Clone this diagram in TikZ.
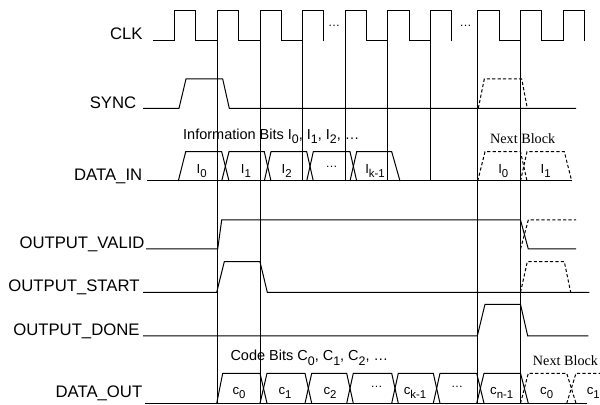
\documentclass[tikz,border=0pt]{standalone}
\usepackage{fontspec}
\setmainfont{Liberation Sans}
\newfontfamily\nbfont{Liberation Serif}
\newcommand{\sbx}[1]{\raisebox{-0.3em}{\fontsize{5.7}{6.5}\selectfont #1}}
\newcommand{\sbt}[1]{\raisebox{-0.28em}{\fontsize{6.2}{7}\selectfont #1}}
\begin{document}
\begin{tikzpicture}[x=0.5pt,y=-0.5pt, line width=0.5pt, line join=miter,
  dsh/.style={dash pattern=on 1.6pt off 1.1pt},
  lbl/.style={anchor=base east, inner sep=0pt, font=\fontsize{8.35}{10}\selectfont},
  cell/.style={anchor=base, inner sep=0pt, font=\fontsize{6.6}{7.5}\selectfont},
  ttl/.style={anchor=base west, inner sep=0pt, font=\fontsize{7.25}{8.5}\selectfont},
  nb/.style={anchor=base, inner sep=0pt, font=\nbfont\fontsize{7.1}{8.5}\selectfont},
  dts/.style={anchor=base, inner sep=0pt, font=\fontsize{6}{7}\selectfont}]
\useasboundingbox (0,0) rectangle (600,405);

% signal names
\node[lbl] (nclk) at (143,39.3) {CLK};
\node[lbl] (nsync) at (136.7,108.5) {SYNC};
\node[lbl] (ndin) at (142.7,180.5) {DATA\_IN};
\node[lbl] (nvalid) at (145,249) {OUTPUT\_VALID};
\node[lbl] (nstart) at (140,291.3) {OUTPUT\_START};
\node[lbl] (ndone) at (140,335.3) {OUTPUT\_DONE};
\node[lbl] (ndout) at (142.7,397.7) {DATA\_OUT};

% clock
\draw (153,40.7) -- (174.7,40.7) -- (174.7,10.7) -- (195.7,10.7) -- (195.7,40.7)
  -- (217.7,40.7) -- (217.7,10.7) -- (238.3,10.7) -- (238.3,40.7)
  -- (260,40.7) -- (260,10.7) -- (281.7,10.7) -- (281.7,40.7)
  -- (302.7,40.7) -- (302.7,10.7) -- (323.3,10.7) -- (323.3,40.7);
\draw (345.7,40.7) -- (345.7,10.7) -- (366.7,10.7) -- (366.7,40.7)
  -- (387.7,40.7) -- (387.7,10.7) -- (409.3,10.7) -- (409.3,40.7)
  -- (430.7,40.7) -- (430.7,10.7) -- (451.7,10.7) -- (451.7,40.7);
\draw (477.3,40.7) -- (477.3,10.7) -- (499,10.7) -- (499,40.7)
  -- (520.5,40.7) -- (520.5,10.7) -- (541.7,10.7) -- (541.7,40.7)
  -- (563.3,40.7) -- (563.3,10.7) -- (584,10.7) -- (584,40.7);
\node[dts] (cd1) at (334,27) {\ldots};
\node[dts] (cd2) at (465.5,27) {\ldots};

% vertical timing lines
\draw (217.7,40.7) -- (217.7,403.3);
\draw (260,40.7) -- (260,403.3);
\draw (302.7,40.7) -- (302.7,181);
\draw (345.7,40.7) -- (345.7,181);
\draw (387.7,40.7) -- (387.7,181);
\draw (430.7,40.7) -- (430.7,181);
\draw (477.3,40.7) -- (477.3,403.3);
\draw (520.5,40.7) -- (520.5,403.3);

% SYNC
\draw (143,108.3) -- (179,108.3) -- (186,79) -- (222.7,79) -- (229.3,108.3) -- (576,108.3);
\draw[dsh] (478.3,108.3) -- (484.3,79) -- (521.7,79) -- (527.3,108.3);

% DATA_IN
\draw (147,181) -- (571.7,181);
\draw (178.3,181) -- (185.7,151.7) -- (221.7,151.7) -- (229,181);
\draw (221.7,181) -- (229,151.7) -- (264.3,151.7) -- (271,181);
\draw (264.3,181) -- (271,151.7) -- (306.7,151.7) -- (313.3,181);
\draw (306.7,181) -- (313.3,151.7) -- (350,151.7) -- (356.7,181);
\draw (350,181) -- (356.7,151.7) -- (391.7,151.7) -- (400,181);
\draw[dsh] (477.7,181) -- (485,151.7) -- (520.5,151.7) -- (527,181);
\draw[dsh] (520.5,181) -- (527,151.7) -- (564.3,151.7) -- (571.7,181);
\node[cell] (i0) at (201.7,173.3) {I\sbx{0}};
\node[cell] (i1) at (246,173.3) {I\sbx{1}};
\node[cell] (i2) at (286.7,173.3) {I\sbx{2}};
\node[dts] (idots) at (331.7,167.3) {\ldots};
\node[cell] (ik) at (375,173.3) {I\sbx{k-1}};
\node[cell] (ni0) at (503.3,173.3) {I\sbx{0}};
\node[cell] (ni1) at (545.7,173.3) {I\sbx{1}};
\node[ttl] (ititle) at (182.7,139.3) {Information Bits I\sbt{0}, I\sbt{1}, I\sbt{2}, \ldots};
\node[nb] (nbin) at (522.7,144) {Next Block};

% OUTPUT_VALID
\draw (146,249) -- (217.7,249) -- (221.7,220) -- (520.5,220) -- (528.3,249) -- (576,249);
\draw[dsh] (520.5,249) -- (528.3,220) -- (576,220);

% OUTPUT_START
\draw (143,292.3) -- (216.7,292.3) -- (224.3,261.7) -- (260,261.7) -- (267.3,292.3) -- (589.3,292.3);
\draw[dsh] (520.5,292.3) -- (527.3,261.7) -- (564.3,261.7) -- (570.7,292.3);

% OUTPUT_DONE
\draw (143,336) -- (477.3,336) -- (485,304.3) -- (520.5,304.3) -- (527.7,336) -- (588.3,336);

% DATA_OUT
\draw (145,403.3) -- (586.7,403.3);
\draw (216.7,403.3) -- (222.7,373.3) -- (260,373.3) -- (267,403.3);
\draw (260,403.3) -- (267,373.3) -- (305,373.3) -- (311.7,403.3);
\draw (305,403.3) -- (311.7,373.3) -- (346.7,373.3) -- (353.3,403.3);
\draw (346.7,403.3) -- (353.3,373.3) -- (391.7,373.3) -- (398.3,403.3);
\draw (391.7,403.3) -- (398.3,373.3) -- (433.3,373.3) -- (440,403.3);
\draw (433.3,403.3) -- (440,373.3) -- (476.7,373.3) -- (484,403.3);
\draw (476.7,403.3) -- (484,373.3) -- (520.5,373.3) -- (528.3,403.3);
\draw[dsh] (520.5,403.3) -- (528.3,373.3) -- (566.7,373.3) -- (576,403.3);
\draw[dsh] (566.7,403.3) -- (576,373.3) -- (600,373.3);
\node[cell] (c0) at (239,395) {c\sbx{0}};
\node[cell] (c1) at (285,395) {c\sbx{1}};
\node[cell] (c2) at (330,395) {c\sbx{2}};
\node[dts] (cdots1) at (376.7,387.3) {\ldots};
\node[cell] (ck) at (415,395) {c\sbx{k-1}};
\node[dts] (cdots2) at (457,387.3) {\ldots};
\node[cell] (cn) at (501.7,395) {c\sbx{n-1}};
\node[cell] (nc0) at (546.7,395) {c\sbx{0}};
\node[cell] (nc1) at (593.3,395) {c\sbx{1}};
\node[ttl] (ctitle) at (230,361) {Code Bits C\sbt{0}, C\sbt{1}, C\sbt{2}, \ldots};
\node[nb] (nbout) at (565.5,366) {Next Block};
\end{tikzpicture}
\end{document}
